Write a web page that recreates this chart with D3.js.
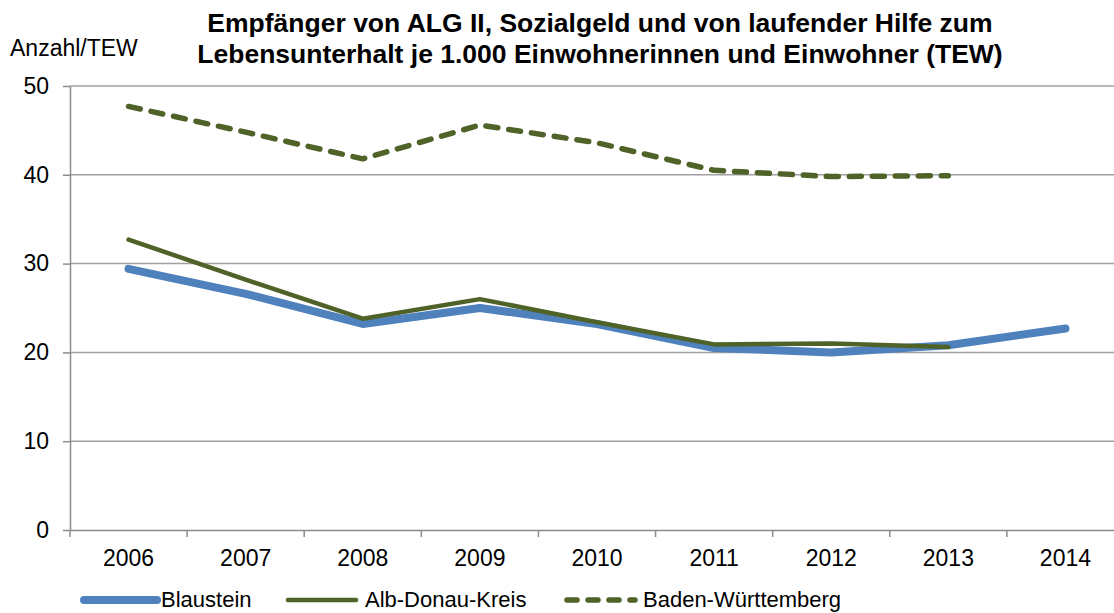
<html>
<head>
<meta charset="utf-8">
<script src="https://d3js.org/d3.v7.min.js"></script>
<style>
  body { margin: 0; background: #fff; }
  svg text { font-family: "Liberation Sans", Arial, sans-serif; fill: #000; }
</style>
</head>
<body>
<script>
var years = ["2006", "2007", "2008", "2009", "2010", "2011", "2012", "2013", "2014"];
var blaustein = [29.4, 26.6, 23.2, 25.0, 23.2, 20.5, 20.0, 20.8, 22.7];
var albDonau = [32.7, 28.2, 23.8, 26.0, 23.4, 20.9, 21.0, 20.6, null];
var badenWue = [47.7, 44.8, 41.8, 45.6, 43.6, 40.5, 39.8, 39.9, null];
var yTicks = [0, 10, 20, 30, 40, 50];

var width = 1114, height = 613;
var plotLeft = 70, plotRight = 1124, plotTop = 86, plotBottom = 530;

var svg = d3.select("body").append("svg")
  .attr("width", width)
  .attr("height", height);

var x = d3.scaleBand().domain(years).range([plotLeft, plotRight]);
var y = d3.scaleLinear().domain([0, 50]).range([plotBottom, plotTop]);

// gridlines
svg.selectAll("line.grid")
  .data(yTicks.filter(function(d) { return d > 0; }))
  .enter().append("line")
  .attr("class", "grid")
  .attr("x1", plotLeft).attr("x2", width)
  .attr("y1", function(d) { return y(d); })
  .attr("y2", function(d) { return y(d); })
  .attr("stroke", "#a0a0a0").attr("stroke-width", 1.5);

// y axis
var yAxis = svg.append("g")
  .attr("transform", "translate(" + plotLeft + ",0)")
  .call(d3.axisLeft(y).tickValues(yTicks).tickSize(7).tickSizeOuter(0).tickPadding(14));
yAxis.selectAll("path, line").attr("stroke", "#8c8c8c").attr("stroke-width", 1.5);
yAxis.selectAll("text").style("font-size", "23px").style("font-family", "Liberation Sans, Arial, sans-serif");

// x axis
var xAxis = svg.append("g")
  .attr("transform", "translate(0," + plotBottom + ")")
  .call(d3.axisBottom(x).tickSize(0).tickPadding(20));
xAxis.select("path").attr("stroke", "#8c8c8c").attr("stroke-width", 1.5);
xAxis.selectAll("text").style("font-size", "23px").style("font-family", "Liberation Sans, Arial, sans-serif");
// tick marks between categories
svg.selectAll("line.xtick")
  .data(years)
  .enter().append("line")
  .attr("class", "xtick")
  .attr("x1", function(d) { return x(d); })
  .attr("x2", function(d) { return x(d); })
  .attr("y1", plotBottom).attr("y2", plotBottom + 7)
  .attr("stroke", "#8c8c8c").attr("stroke-width", 1.5);

var line = d3.line()
  .defined(function(d) { return d != null; })
  .x(function(d, i) { return x(years[i]) + x.bandwidth() / 2; })
  .y(function(d) { return y(d); });

var series = [
  { name: "Blaustein", values: blaustein, color: "#4f81bd", w: 8, dash: null },
  { name: "Alb-Donau-Kreis", values: albDonau, color: "#4f6228", w: 4.5, dash: null },
  { name: "Baden-Württemberg", values: badenWue, color: "#4f6228", w: 5.5, dash: "12,11" }
];

series.forEach(function(s) {
  svg.append("path")
    .datum(s.values)
    .attr("d", line)
    .attr("fill", "none")
    .attr("stroke", s.color)
    .attr("stroke-width", s.w)
    .attr("stroke-linecap", "round")
    .attr("stroke-linejoin", "round")
    .attr("stroke-dasharray", s.dash);
});

// title
svg.append("text")
  .attr("x", 600).attr("y", 32)
  .attr("text-anchor", "middle")
  .style("font-size", "26.5px").style("font-weight", "bold")
  .text("Empfänger von ALG II, Sozialgeld und von laufender Hilfe zum");
svg.append("text")
  .attr("x", 600).attr("y", 63)
  .attr("text-anchor", "middle")
  .style("font-size", "26.5px").style("font-weight", "bold")
  .text("Lebensunterhalt je 1.000 Einwohnerinnen und Einwohner (TEW)");
svg.append("text")
  .attr("x", 10).attr("y", 56)
  .style("font-size", "23px")
  .text("Anzahl/TEW");

// legend
var legendPos = [84, 288, 567];
var legend = svg.selectAll("g.legend")
  .data(series)
  .enter().append("g")
  .attr("class", "legend")
  .attr("transform", function(d, i) { return "translate(" + legendPos[i] + ",600)"; });
legend.append("line")
  .attr("x1", 0).attr("x2", function(d, i) { return i === 0 ? 73 : 68; })
  .attr("y1", 0).attr("y2", 0)
  .attr("stroke", function(d) { return d.color; })
  .attr("stroke-width", function(d) { return d.w; })
  .attr("stroke-linecap", "round")
  .attr("stroke-dasharray", function(d) { return d.dash ? "10,11" : null; });
legend.append("text")
  .attr("x", function(d, i) { return i === 2 ? 76 : 77; })
  .attr("y", 7)
  .style("font-size", "22px")
  .text(function(d) { return d.name; });
</script>
</body>
</html>
